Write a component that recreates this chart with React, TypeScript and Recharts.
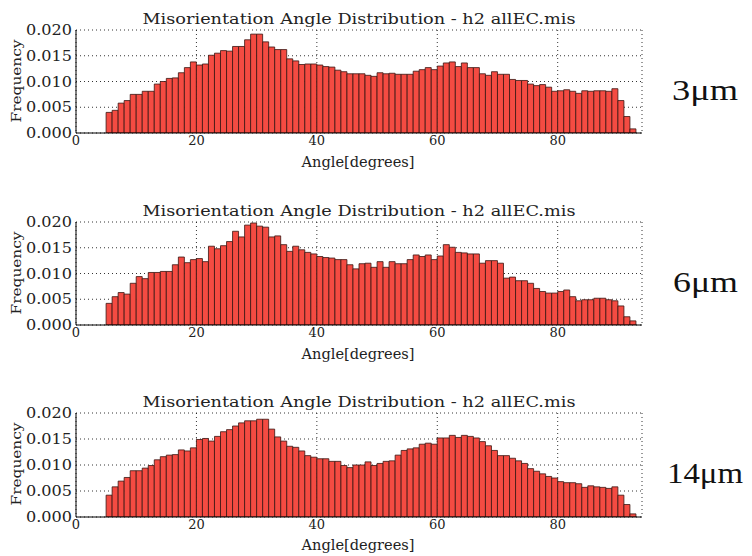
import React from "react";
import { BarChart, Bar, XAxis, YAxis, CartesianGrid } from "recharts";

// 1-degree bins starting at 5 degrees
const BIN_START = 5;
const X_TICKS = [0, 20, 40, 60, 80];
const Y_TICKS = [0, 0.005, 0.01, 0.015, 0.02];

const FREQ_3UM = [
  0.004, 0.0044, 0.0058, 0.0063, 0.0075, 0.0075, 0.0081, 0.0081, 0.0095, 0.01,
  0.0106, 0.0107, 0.0117, 0.0127, 0.0138, 0.0132, 0.0134, 0.0151, 0.0155, 0.016,
  0.0159, 0.0168, 0.0168, 0.0181, 0.0192, 0.0192, 0.0177, 0.0167, 0.0162, 0.0162,
  0.0144, 0.014, 0.0133, 0.0134, 0.0134, 0.0132, 0.0129, 0.0128, 0.0122, 0.0119,
  0.0115, 0.0115, 0.0115, 0.0112, 0.011, 0.0117, 0.0115, 0.0116, 0.0114, 0.0114,
  0.0114, 0.012, 0.0123, 0.0127, 0.0123, 0.013, 0.0136, 0.0138, 0.0129, 0.0136,
  0.0127, 0.0127, 0.0115, 0.0112, 0.0119, 0.0114, 0.0114, 0.0104, 0.0102, 0.0102,
  0.0095, 0.0092, 0.0094, 0.0089, 0.0081, 0.0082, 0.0084, 0.0081, 0.0077, 0.0082,
  0.0081, 0.0082, 0.0082, 0.0081, 0.0086, 0.0063, 0.0032, 0.0008,
];

const FREQ_6UM = [
  0.0042, 0.0055, 0.0063, 0.006, 0.0081, 0.0094, 0.009, 0.0102, 0.0102, 0.0104,
  0.0104, 0.0117, 0.0132, 0.0121, 0.0127, 0.0129, 0.0123, 0.0153, 0.0148, 0.0154,
  0.0162, 0.0182, 0.0171, 0.0194, 0.0198, 0.0192, 0.019, 0.0171, 0.0173, 0.0156,
  0.0143, 0.0153, 0.0146, 0.0141, 0.0138, 0.0133, 0.0131, 0.013, 0.0127, 0.0127,
  0.0117, 0.0109, 0.0119, 0.012, 0.0112, 0.0123, 0.0112, 0.0123, 0.0119, 0.0119,
  0.0127, 0.0136, 0.0133, 0.0136, 0.0127, 0.0134, 0.0156, 0.0151, 0.0141, 0.014,
  0.0138, 0.0138, 0.012, 0.0125, 0.0125, 0.012, 0.0091, 0.0093, 0.0086, 0.0086,
  0.0081, 0.0071, 0.0065, 0.0062, 0.0062, 0.0065, 0.0068, 0.0055, 0.0047, 0.0049,
  0.0049, 0.0052, 0.0052, 0.0049, 0.0047, 0.0037, 0.0016, 0.0008,
];

const FREQ_14UM = [
  0.0042, 0.0058, 0.0069, 0.0076, 0.0089, 0.0089, 0.0094, 0.0099, 0.011, 0.0116,
  0.0119, 0.012, 0.0129, 0.0127, 0.0133, 0.0149, 0.0151, 0.0146, 0.0155, 0.0164,
  0.0168, 0.0175, 0.0181, 0.0185, 0.0185, 0.0188, 0.0188, 0.0169, 0.0154, 0.0146,
  0.0136, 0.0134, 0.0127, 0.0118, 0.0115, 0.0112, 0.0112, 0.0107, 0.0107, 0.0099,
  0.0095, 0.01, 0.01, 0.0106, 0.0099, 0.0103, 0.0107, 0.0108, 0.0119, 0.0128,
  0.0131, 0.0133, 0.014, 0.0142, 0.014, 0.0152, 0.0152, 0.0157, 0.0153, 0.0157,
  0.0155, 0.0152, 0.0145, 0.0137, 0.0128, 0.0118, 0.0118, 0.0113, 0.0108, 0.0103,
  0.0093, 0.0088, 0.0083, 0.0078, 0.0075, 0.0068, 0.0066, 0.0066, 0.0064, 0.0057,
  0.006, 0.0058, 0.0057, 0.0055, 0.0058, 0.0042, 0.0024, 0.0006,
];

const TITLE = "Misorientation Angle Distribution - h2 allEC.mis";
const X_LABEL = "Angle[degrees]";
const Y_LABEL = "Frequency";

const PANELS = [
  { top: 30, height: 103, values: FREQ_3UM, size: "3μm", sizeX: 672, sizeW: 66 },
  { top: 222, height: 103, values: FREQ_6UM, size: "6μm", sizeX: 673, sizeW: 65 },
  { top: 413, height: 104, values: FREQ_14UM, size: "14μm", sizeX: 667, sizeW: 76 },
];

const SERIF = "'DejaVu Serif', serif";
const TICK = { fontSize: 13, fill: "#222", fontFamily: SERIF };

// y tick labels in the original are drawn wider than the font's natural width
function YTick(props: any) {
  const { x, y, payload } = props;
  return (
    <text
      x={x}
      y={y}
      dy="0.36em"
      textAnchor="end"
      fontFamily={SERIF}
      fontSize={14}
      fill="#222"
      textLength={46}
      lengthAdjust="spacingAndGlyphs"
    >
      {Number(payload.value).toFixed(3)}
    </text>
  );
}

function Histogram({ top, height, values }: { top: number; height: number; values: number[] }) {
  const data = values.map((v, i) => ({ x: BIN_START + i + 0.5, v }));
  return (
    <div style={{ position: "absolute", left: 0, top: top - 30 }}>
      <BarChart
        width={752}
        height={30 + height + 40}
        data={data}
        margin={{ top: 30, right: 110, bottom: 0, left: 0 }}
        barCategoryGap={0}
        barGap={0}
      >
        <CartesianGrid stroke="#000" strokeDasharray="1 3" strokeWidth={0.8} />
        <XAxis
          dataKey="x"
          type="number"
          domain={[0, 94]}
          ticks={X_TICKS}
          height={40}
          tickSize={0}
          tickMargin={3}
          tick={TICK}
          stroke="#000"
          allowDataOverflow
        />
        <XAxis xAxisId="top" orientation="top" type="number" domain={[0, 94]} height={0} tick={false} tickSize={0} stroke="#000" />
        <YAxis
          type="number"
          domain={[0, 0.02]}
          ticks={Y_TICKS}
          width={76}
          tickSize={0}
          tickMargin={4}
          tick={<YTick />}
          stroke="#000"
          allowDataOverflow
        />
        <YAxis yAxisId="right" orientation="right" domain={[0, 1]} width={0} tick={false} tickSize={0} stroke="#000" />
        <Bar dataKey="v" fill="#f44b42" stroke="#3a1512" strokeWidth={0.8} isAnimationActive={false} />
      </BarChart>
    </div>
  );
}

export default function App() {
  return (
    <div style={{ position: "absolute", left: 0, top: 0, width: 752, height: 556, background: "#fff" }}>
      {PANELS.map((p) => (
        <Histogram key={p.size} top={p.top} height={p.height} values={p.values} />
      ))}
      <svg width={752} height={556} style={{ position: "absolute", left: 0, top: 0, pointerEvents: "none" }}>
        {PANELS.map((p) => (
          <g key={p.size}>
            <text
              x={359}
              y={p.top - 6}
              textAnchor="middle"
              fontFamily={SERIF}
              fontSize={15}
              fill="#222"
              textLength={433}
              lengthAdjust="spacingAndGlyphs"
            >
              {TITLE}
            </text>
            <text
              x={358}
              y={p.top + 137}
              textAnchor="middle"
              fontFamily={SERIF}
              fontSize={14}
              fill="#222"
              textLength={113}
              lengthAdjust="spacingAndGlyphs"
            >
              {X_LABEL}
            </text>
            <text
              transform={`translate(21, ${p.top + 51}) rotate(-90)`}
              textAnchor="middle"
              fontFamily={SERIF}
              fontSize={13}
              fill="#222"
              textLength={83}
              lengthAdjust="spacingAndGlyphs"
            >
              {Y_LABEL}
            </text>
            <text
              x={p.sizeX}
              y={p.top + 70}
              fontFamily="'Liberation Serif', serif"
              fontSize={29}
              fill="#111"
              textLength={p.sizeW}
              lengthAdjust="spacingAndGlyphs"
            >
              {p.size}
            </text>
          </g>
        ))}
      </svg>
    </div>
  );
}
